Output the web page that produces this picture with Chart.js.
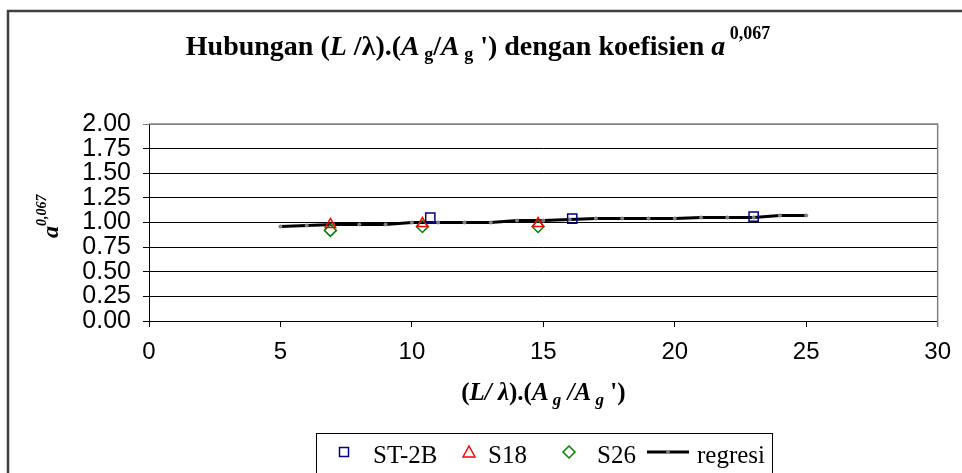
<!DOCTYPE html>
<html lang="id">
<head>
    <meta charset="UTF-8">
    <title>Hubungan (L/λ).(Ag/Ag') dengan koefisien a^0,067</title>
    <script src="https://cdn.jsdelivr.net/npm/chart.js"></script>
    <style>
        body {
            margin: 0;
            padding: 0;
            background: #fff;
        }
        #wrap {
            width: 962px;
            height: 473px;
            position: relative;
        }
    </style>
</head>
<body>
    <div id="wrap">
        <canvas id="koefChart" width="962" height="473"></canvas>
    </div>

    <script>
// data
const xTicks = [0, 5, 10, 15, 20, 25, 30];
const yTicks = [0, 0.25, 0.5, 0.75, 1, 1.25, 1.5, 1.75, 2];

const st2bX = [10.7, 16.1, 23.0];
const st2bY = [1.05, 1.04, 1.06];

const s18X = [6.9, 10.4, 14.8];
const s18Y = [0.98, 0.99, 0.99];

const s26X = [6.9, 10.4, 14.8];
const s26Y = [0.92, 0.96, 0.96];

const regX = [5, 6, 7, 8, 9, 10, 11, 12, 13, 14, 15, 16, 17, 18, 19, 20, 21, 22, 23, 24, 25];
const regY = [0.96, 0.97, 0.98, 0.98, 0.98, 1.00, 1.00, 1.00, 1.00, 1.02, 1.02, 1.03, 1.04, 1.04, 1.04, 1.04, 1.05, 1.05, 1.05, 1.07, 1.07];

const toPoints = (xs, ys) => xs.map((x, i) => ({ x: x, y: ys[i] }));

const SERIF = '"Liberation Serif", "Times New Roman", serif';
const SANS = '"Liberation Sans", Arial, sans-serif';

// draw a row of text pieces with different fonts, [text, font, dy]
function drawRuns(ctx, runs, x, y, align) {
    let total = 0;
    runs.forEach(r => { ctx.font = r[1]; total += ctx.measureText(r[0]).width; });
    let cx = align === 'center' ? x - total / 2 : x;
    runs.forEach(r => {
        ctx.font = r[1];
        ctx.fillText(r[0], cx, y + (r[2] || 0));
        cx += ctx.measureText(r[0]).width;
    });
}

const decorations = {
    id: 'decorations',
    afterDraw(chart) {
        const ctx = chart.ctx;
        const area = chart.chartArea;
        ctx.save();

        // outer frame (only left and top are inside the picture)
        ctx.strokeStyle = '#404040';
        ctx.lineWidth = 2.5;
        ctx.beginPath();
        ctx.moveTo(8, 480);
        ctx.lineTo(8, 11);
        ctx.lineTo(970, 11);
        ctx.stroke();

        // plot area border: top and right in grey
        ctx.strokeStyle = '#808080';
        ctx.lineWidth = 1.5;
        ctx.beginPath();
        ctx.moveTo(area.left, area.top);
        ctx.lineTo(area.right, area.top);
        ctx.lineTo(area.right, area.bottom + 6);
        ctx.stroke();

        ctx.fillStyle = '#000';
        ctx.textBaseline = 'alphabetic';

        // title
        const b = 'bold 28px ' + SERIF;
        const bi = 'italic bold 28px ' + SERIF;
        const sub = 'bold 18px ' + SERIF;
        drawRuns(ctx, [
            ['Hubungan (', b], ['L', bi], [' /', b], ['\u03bb', b], [').(', b],
            ['A', bi], [' g', sub, 5], ['/', b], ['A', bi], [' g', sub, 5],
            [" ') dengan koefisien ", b], ['a', bi], [' 0,067', sub, -16]
        ], 478, 55, 'center');

        // x axis title
        const xb = 'bold 25px ' + SERIF;
        const xbi = 'italic bold 25px ' + SERIF;
        const xsub = 'italic bold 17px ' + SERIF;
        drawRuns(ctx, [
            ['(', xb], ['L', xbi], ['/', xbi], [' \u03bb', xbi], [').', xb], ['(', xb],
            ['A', xbi], [' g', xsub, 5], [' /', xbi], ['A', xbi], [' g', xsub, 5], [" ')", xb]
        ], (area.left + area.right) / 2, 400, 'center');

        // y axis title, rotated
        ctx.save();
        ctx.translate(58, 238);
        ctx.rotate(-Math.PI / 2);
        drawRuns(ctx, [
            ['a', 'italic bold 24px ' + SERIF],
            ['0,067', 'italic bold 14px ' + SERIF, -12]
        ], 0, 0, 'left');
        ctx.restore();

        // legend box
        ctx.strokeStyle = '#000';
        ctx.lineWidth = 1;
        ctx.strokeRect(316.5, 433.5, 456, 60);

        const ly = 452;
        ctx.lineWidth = 1.5;
        // square
        ctx.strokeStyle = '#000080';
        ctx.strokeRect(339.5, ly - 4.5, 9, 9);
        // triangle
        ctx.strokeStyle = '#ff0000';
        ctx.beginPath();
        ctx.moveTo(469, ly - 6);
        ctx.lineTo(475, ly + 5);
        ctx.lineTo(463, ly + 5);
        ctx.closePath();
        ctx.stroke();
        // diamond
        ctx.strokeStyle = '#008000';
        ctx.beginPath();
        ctx.moveTo(569, ly - 6);
        ctx.lineTo(575, ly);
        ctx.lineTo(569, ly + 6);
        ctx.lineTo(563, ly);
        ctx.closePath();
        ctx.stroke();
        // regression line sample
        ctx.strokeStyle = '#000';
        ctx.lineWidth = 3;
        ctx.beginPath();
        ctx.moveTo(647, ly);
        ctx.lineTo(689, ly);
        ctx.stroke();
        ctx.fillStyle = '#808080';
        ctx.beginPath();
        ctx.arc(668, ly, 2, 0, Math.PI * 2);
        ctx.fill();

        ctx.fillStyle = '#000';
        ctx.font = '25px ' + SERIF;
        ctx.fillText('ST-2B', 373, 463);
        ctx.fillText('S18', 488, 463);
        ctx.fillText('S26', 597, 463);
        ctx.fillText('regresi', 697, 463);

        ctx.restore();
    }
};

const koefChart = new Chart(document.getElementById('koefChart'), {
    type: 'scatter',
    data: {
        datasets: [
            {
                label: 'ST-2B',
                data: toPoints(st2bX, st2bY),
                pointStyle: 'rect',
                pointRadius: 6.5,
                pointBorderColor: '#000080',
                pointBackgroundColor: 'rgba(0,0,0,0)',
                pointBorderWidth: 1.5,
                order: 1
            },
            {
                label: 'S18',
                data: toPoints(s18X, s18Y),
                pointStyle: 'triangle',
                pointRadius: 6,
                pointBorderColor: '#ff0000',
                pointBackgroundColor: 'rgba(0,0,0,0)',
                pointBorderWidth: 1.5,
                order: 2
            },
            {
                label: 'S26',
                data: toPoints(s26X, s26Y),
                pointStyle: 'rectRot',
                pointRadius: 6,
                pointBorderColor: '#008000',
                pointBackgroundColor: 'rgba(0,0,0,0)',
                pointBorderWidth: 1.5,
                order: 3
            },
            {
                label: 'regresi',
                data: toPoints(regX, regY),
                showLine: true,
                borderColor: '#000',
                borderWidth: 3,
                tension: 0,
                pointStyle: 'circle',
                pointRadius: 2,
                pointBorderWidth: 0,
                pointBackgroundColor: '#808080',
                order: 4
            }
        ]
    },
    options: {
        responsive: false,
        animation: false,
        devicePixelRatio: 1,
        layout: { padding: { left: 0, top: 124, right: 24, bottom: 0 } },
        plugins: {
            legend: { display: false },
            title: { display: false },
            tooltip: { enabled: false }
        },
        scales: {
            x: {
                type: 'linear',
                min: 0,
                max: 30,
                afterBuildTicks: (scale) => { scale.ticks = xTicks.map(v => ({ value: v })); },
                afterFit: (scale) => { scale.height = 152; },
                ticks: {
                    color: '#000',
                    font: { family: SANS, size: 24 },
                    padding: 11,
                    autoSkip: false,
                    maxRotation: 0
                },
                grid: {
                    drawOnChartArea: false,
                    drawTicks: true,
                    tickLength: 6,
                    color: '#000'
                },
                border: { color: '#000', width: 1 }
            },
            y: {
                min: 0,
                max: 2,
                afterBuildTicks: (scale) => { scale.ticks = yTicks.map(v => ({ value: v })); },
                afterFit: (scale) => { scale.width = 149; },
                ticks: {
                    color: '#000',
                    font: { family: SANS, size: 25 },
                    padding: 12,
                    autoSkip: false,
                    callback: (v) => Number(v).toFixed(2)
                },
                grid: {
                    tickLength: 6,
                    color: (c) => (c.tick && c.tick.value === 2 ? '#808080' : '#000'),
                    lineWidth: 1
                },
                border: { color: '#000', width: 1 }
            }
        }
    },
    plugins: [decorations]
});
    </script>
</body>
</html>
